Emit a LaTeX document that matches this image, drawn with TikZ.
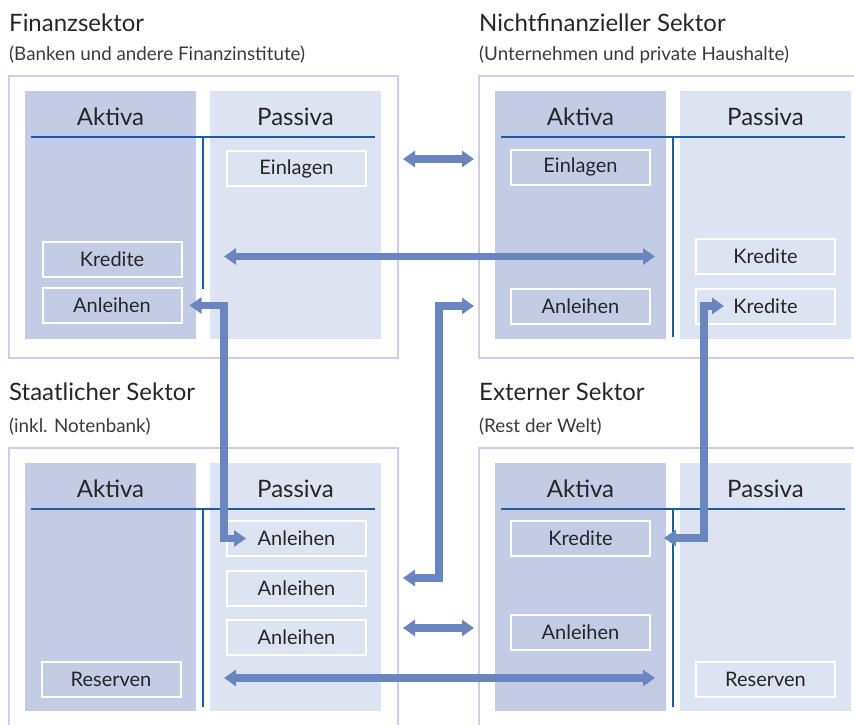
\documentclass[tikz,border=0pt]{standalone}
\usepackage{fontspec}
\setmainfont{Lato}
\usepackage{tikz}
\usetikzlibrary{arrows.meta,positioning}
\definecolor{sektorFrame}{HTML}{C9D0E8}
\definecolor{aktivaFill}{HTML}{C4CCE5}
\definecolor{passivaFill}{HTML}{DEE3F2}
\definecolor{kontoLine}{HTML}{1B5CA8}
\definecolor{flowBlue}{HTML}{6A86C1}
\definecolor{textGray}{HTML}{3A3A3A}

\begin{document}
\begin{tikzpicture}[
  x=1pt,y=-1pt,
  sektorbox/.style={rectangle,draw=sektorFrame,line width=1.3pt,anchor=north west,minimum width=389pt,minimum height=282pt,inner sep=0pt,outer sep=0pt},
  aktiva/.style={rectangle,fill=aktivaFill,minimum width=171pt,minimum height=248pt,inner sep=0pt,outer sep=0pt},
  passiva/.style={aktiva,fill=passivaFill},
  kontoHead/.style={anchor=base,font=\fontsize{24}{28}\selectfont,text=black!85},
  sektorTitle/.style={anchor=base west,inner xsep=0pt,font=\fontsize{24}{28}\selectfont,text=black!85},
  subtitle/.style={anchor=base west,inner xsep=0pt,font=\fontsize{18.8}{22}\selectfont,text=textGray},
  posten/.style={rectangle,draw=white,line width=2pt,minimum width=139pt,minimum height=35pt,inner sep=0pt,font=\fontsize{20}{23}\selectfont,text=black!85},
  tline/.style={draw=kontoLine,line width=2pt},
  flowarrow/.style={{Triangle[length=12pt,width=16pt]}-{Triangle[length=12pt,width=16pt]},line width=7.5pt,draw=flowBlue}
]
\clip (0,0) rectangle (854,725);

% Finanzsektor
\node[sektorTitle] (fsTitle) at (9,32) {Finanzsektor};
\node[subtitle] (fsSub) at (9,60) {(Banken und andere Finanzinstitute)};
\node[sektorbox] (fsFrame) at (9,76) {};
\node[aktiva,below right=15pt and 16pt of fsFrame.north west] (fsAkt) {};
\node[passiva,right=14pt of fsAkt] (fsPas) {};
\node[kontoHead] (fsAktHead) at ([yshift=-34pt]fsAkt.north) {Aktiva};
\node[kontoHead] (fsPasHead) at ([yshift=-34pt]fsPas.north) {Passiva};
\draw[tline] ([xshift=6pt,yshift=-46pt]fsAkt.north west) -- ([xshift=-6pt,yshift=-46pt]fsPas.north east);
\draw[tline] ([xshift=7pt,yshift=-46pt]fsAkt.north east) -- ++(0,152);

% Nichtfinanzieller Sektor
\node[sektorTitle] (nfTitle) at (479,32) {Nichtfinanzieller Sektor};
\node[subtitle] (nfSub) at (479,60) {(Unternehmen und private Haushalte)};
\node[sektorbox] (nfFrame) at (479,76) {};
\node[aktiva,below right=15pt and 16pt of nfFrame.north west] (nfAkt) {};
\node[passiva,right=14pt of nfAkt] (nfPas) {};
\node[kontoHead] (nfAktHead) at ([yshift=-34pt]nfAkt.north) {Aktiva};
\node[kontoHead] (nfPasHead) at ([yshift=-34pt]nfPas.north) {Passiva};
\draw[tline] ([xshift=6pt,yshift=-46pt]nfAkt.north west) -- ([xshift=-6pt,yshift=-46pt]nfPas.north east);
\draw[tline] ([xshift=7pt,yshift=-46pt]nfAkt.north east) -- ++(0,200);

% Staatlicher Sektor
\node[sektorTitle] (stTitle) at (9,400) {Staatlicher Sektor};
\node[subtitle] (stSub) at (9,432) {(inkl. Notenbank)};
\node[sektorbox] (stFrame) at (9,448) {};
\node[aktiva,below right=15pt and 16pt of stFrame.north west] (stAkt) {};
\node[passiva,right=14pt of stAkt] (stPas) {};
\node[kontoHead] (stAktHead) at ([yshift=-34pt]stAkt.north) {Aktiva};
\node[kontoHead] (stPasHead) at ([yshift=-34pt]stPas.north) {Passiva};
\draw[tline] ([xshift=6pt,yshift=-46pt]stAkt.north west) -- ([xshift=-6pt,yshift=-46pt]stPas.north east);
\draw[tline] ([xshift=7pt,yshift=-46pt]stAkt.north east) -- ++(0,198);

% Externer Sektor
\node[sektorTitle] (exTitle) at (479,400) {Externer Sektor};
\node[subtitle] (exSub) at (479,432) {(Rest der Welt)};
\node[sektorbox] (exFrame) at (479,448) {};
\node[aktiva,below right=15pt and 16pt of exFrame.north west] (exAkt) {};
\node[passiva,right=14pt of exAkt] (exPas) {};
\node[kontoHead] (exAktHead) at ([yshift=-34pt]exAkt.north) {Aktiva};
\node[kontoHead] (exPasHead) at ([yshift=-34pt]exPas.north) {Passiva};
\draw[tline] ([xshift=6pt,yshift=-46pt]exAkt.north west) -- ([xshift=-6pt,yshift=-46pt]exPas.north east);
\draw[tline] ([xshift=7pt,yshift=-46pt]exAkt.north east) -- ++(0,198);

% Posten
\node[posten] (fsEinlagen) at (296.5,168.5) {Einlagen};
\node[posten] (fsKredite) at (112,259) {Kredite};
\node[posten] (fsAnleihen) at (112,305.5) {Anleihen};
\node[posten] (nfEinlagen) at (580.5,167) {Einlagen};
\node[posten] (nfAnleihen) at (580.5,306) {Anleihen};
\node[posten] (nfKrediteA) at (765.5,256.5) {Kredite};
\node[posten] (nfKrediteB) at (765.5,306) {Kredite};
\node[posten] (stAnleihenA) at (296.5,538.5) {Anleihen};
\node[posten] (stAnleihenB) at (296.5,588) {Anleihen};
\node[posten] (stAnleihenC) at (296.5,637) {Anleihen};
\node[posten] (stReserven) at (111,679) {Reserven};
\node[posten] (exKredite) at (580.5,538) {Kredite};
\node[posten] (exAnleihen) at (580.5,632) {Anleihen};
\node[posten] (exReserven) at (765.5,679.5) {Reserven};

% Verflechtungen
\draw[flowarrow] ([xshift=36pt,yshift=9.5pt]fsEinlagen.east) -- ([xshift=-36pt,yshift=8pt]nfEinlagen.west);
\draw[flowarrow] ([xshift=41.5pt]fsKredite.east |- nfKrediteA) -- ([xshift=-40pt]nfKrediteA.west);
\draw[flowarrow] ([xshift=7pt]fsAnleihen.east) -- ([xshift=41.5pt]fsAnleihen.east) |- ([xshift=20pt]stAnleihenA.west);
\draw[flowarrow] ([xshift=36pt,yshift=10pt]stAnleihenB.east) -- ++(36,0) |- ([xshift=-36pt]nfAnleihen.west);
\draw[flowarrow] ([xshift=13pt]exKredite.east) -- ++(40,0) |- ([xshift=29pt]nfKrediteB.west);
\draw[flowarrow] ([xshift=36pt,yshift=9pt]stAnleihenC.east) -- ([xshift=-36pt,yshift=4pt]exAnleihen.west);
\draw[flowarrow] ([xshift=42.5pt,yshift=1pt]stReserven.east) -- ([xshift=-40pt,yshift=1.5pt]exReserven.west);
\end{tikzpicture}
\end{document}
